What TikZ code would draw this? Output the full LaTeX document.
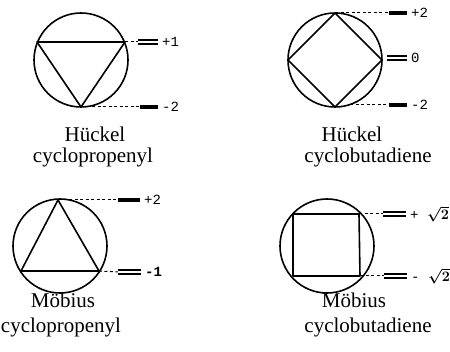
\documentclass[tikz,border=0pt]{standalone}
\usepackage{fontspec}
\setmainfont{Liberation Serif}
\newfontfamily\lvlfont{Liberation Mono}

\tikzset{
  ring/.style={line width=1.6pt},
  bond/.style={line width=1.6pt, line join=round},
  guide/.style={line width=1pt, dash pattern=on 3pt off 2.5pt},
  sbar/.style={line width=4pt},
  dbar/.style={double, double distance=1.2pt, line width=2pt},
  lvl/.style={anchor=west, inner sep=0pt, xshift=4pt, font=\lvlfont\fontsize{14}{14}\selectfont},
  caption/.style={anchor=base, inner sep=0pt, font=\fontsize{21}{23}\selectfont}
}

\begin{document}
\begin{tikzpicture}[x=1pt, y=-1pt]
  \useasboundingbox (0,0) rectangle (450,352);

  % -- Hueckel cyclopropenyl --
  \draw[ring] (81,60) circle (47pt);
  \coordinate (hp1) at (37,42);
  \coordinate (hp2) at (125,42);
  \coordinate (hp3) at (81,107);
  \draw[bond] (hp1) -- (hp2) -- (hp3) -- cycle;
  \coordinate (hpa) at (138,42);  \coordinate (hpb) at (158,42);
  \coordinate (hpc) at (140,107); \coordinate (hpd) at (158,107);
  \draw[guide] (hp2) -- (hpa);
  \draw[dbar] (hpa) -- (hpb);
  \node[lvl] (hpl1) at (hpb) {+1};
  \draw[guide] (hp3) -- (hpc);
  \draw[sbar] (hpc) -- (hpd);
  \node[lvl] (hpl2) at (hpd) {-2};
  \node[caption] (hpn1) at (95,142) {Hückel};
  \node[caption] (hpn2) at (93,163) {cyclopropenyl};

  % -- Hueckel cyclobutadiene --
  \draw[ring] (335,60) circle (47pt);
  \coordinate (hb1) at (335,13);
  \coordinate (hb2) at (382,60);
  \coordinate (hb3) at (335,107);
  \coordinate (hb4) at (288,60);
  \draw[bond] (hb1) -- (hb2) -- (hb3) -- (hb4) -- cycle;
  \coordinate (hba) at (389,13);  \coordinate (hbb) at (407,13);
  \coordinate (hbc) at (387,58);  \coordinate (hbd) at (407,58);
  \coordinate (hbs) at (350,105);
  \coordinate (hbe) at (389,105); \coordinate (hbf) at (407,105);
  \draw[guide] (hb1) -- (hba);
  \draw[sbar] (hba) -- (hbb);
  \node[lvl] (hbl1) at (hbb) {+2};
  \draw[dbar] (hbc) -- (hbd);
  \node[lvl] (hbl2) at (hbd) {0};
  \draw[guide] (hbs) -- (hbe);
  \draw[sbar] (hbe) -- (hbf);
  \node[lvl] (hbl3) at (hbf) {-2};
  \node[caption] (hbn1) at (352,142) {Hückel};
  \node[caption] (hbn2) at (368,163) {cyclobutadiene};

  % -- Moebius cyclopropenyl --
  \draw[ring] (60,246) circle (47pt);
  \coordinate (mp1) at (58,200);
  \coordinate (mp2) at (99,271);
  \coordinate (mp3) at (21,271);
  \draw[bond] (mp1) -- (mp2) -- (mp3) -- cycle;
  \coordinate (mpa) at (118,200); \coordinate (mpb) at (140,200);
  \coordinate (mpc) at (118,272); \coordinate (mpd) at (141,272);
  \draw[guide] (mp1) -- (mpa);
  \draw[sbar] (mpa) -- (mpb);
  \node[lvl] (mpl1) at (mpb) {+2};
  \draw[guide] (mp2) -- (mpc);
  \draw[dbar] (mpc) -- (mpd);
  \node[lvl, font=\lvlfont\bfseries\fontsize{14}{14}\selectfont] (mpl2) at (mpd) {-1};
  \node[caption] (mpn1) at (63,308) {Möbius};
  \node[caption] (mpn2) at (61,333) {cyclopropenyl};

  % -- Moebius cyclobutadiene --
  \draw[ring] (327,246) circle (47pt);
  \coordinate (mb1) at (293,214);
  \coordinate (mb2) at (359,214);
  \coordinate (mb3) at (360,276);
  \coordinate (mb4) at (293,276);
  \draw[bond] (mb1) -- (mb2) -- (mb3) -- (mb4) -- cycle;
  \coordinate (mba) at (383,214); \coordinate (mbb) at (406,214);
  \coordinate (mbc) at (384,276); \coordinate (mbd) at (407,276);
  \draw[guide] (mb2) -- (mba);
  \draw[dbar] (mba) -- (mbb);
  \node[lvl] (mbl1) at (mbb) {+ {\boldmath$\sqrt{2}$}};
  \draw[guide] (mb3) -- (mbc);
  \draw[dbar] (mbc) -- (mbd);
  \node[lvl] (mbl2) at (mbd) {- {\boldmath$\sqrt{2}$}};
  \node[caption] (mbn1) at (354,308) {Möbius};
  \node[caption] (mbn2) at (368,333) {cyclobutadiene};

\end{tikzpicture}
\end{document}
